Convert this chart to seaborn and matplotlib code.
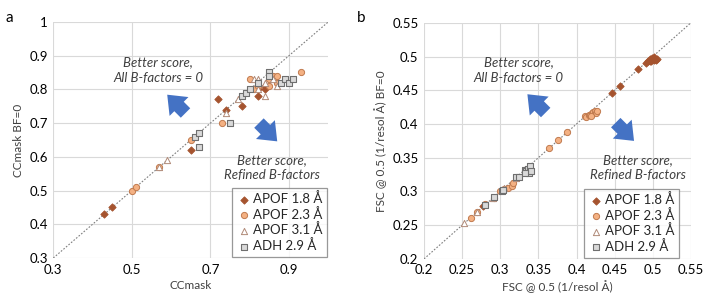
import matplotlib
matplotlib.use("Agg")
import matplotlib.pyplot as plt
import seaborn as sns
import pandas as pd

# ---- panel a : CCmask vs CCmask with B-factors = 0 ----
a18_x = [0.43, 0.45, 0.65, 0.72, 0.74, 0.78, 0.82, 0.84, 0.84, 0.82]
a18_y = [0.43, 0.45, 0.62, 0.77, 0.74, 0.75, 0.78, 0.80, 0.81, 0.80]
a23_x = [0.50, 0.51, 0.57, 0.65, 0.73, 0.80, 0.81, 0.82, 0.85, 0.86, 0.87, 0.87, 0.85, 0.93]
a23_y = [0.50, 0.51, 0.57, 0.65, 0.70, 0.83, 0.80, 0.81, 0.83, 0.84, 0.84, 0.82, 0.81, 0.85]
a31_x = [0.57, 0.59, 0.74, 0.77, 0.81, 0.82, 0.82, 0.84, 0.84, 0.87, 0.86]
a31_y = [0.57, 0.59, 0.73, 0.77, 0.83, 0.83, 0.80, 0.78, 0.82, 0.81, 0.83]
aadh_x = [0.66, 0.67, 0.67, 0.75, 0.78, 0.79, 0.80, 0.82, 0.85, 0.85, 0.88, 0.89, 0.90, 0.91]
aadh_y = [0.66, 0.67, 0.63, 0.70, 0.78, 0.79, 0.80, 0.82, 0.85, 0.84, 0.82, 0.83, 0.82, 0.83]

# ---- panel b : FSC @ 0.5 ----
b18_x = [0.278, 0.447, 0.457, 0.480, 0.491, 0.494, 0.497, 0.499, 0.500, 0.502, 0.503, 0.505, 0.504, 0.501, 0.498, 0.496]
b18_y = [0.278, 0.446, 0.457, 0.481, 0.490, 0.493, 0.496, 0.498, 0.497, 0.499, 0.496, 0.497, 0.495, 0.495, 0.494, 0.493]
b23_x = [0.262, 0.270, 0.280, 0.292, 0.300, 0.305, 0.310, 0.315, 0.317, 0.364, 0.376, 0.388,
         0.411, 0.413, 0.416, 0.418, 0.420, 0.422, 0.424, 0.426, 0.427, 0.419]
b23_y = [0.261, 0.270, 0.281, 0.290, 0.300, 0.303, 0.305, 0.308, 0.312, 0.364, 0.376, 0.388,
         0.412, 0.411, 0.413, 0.414, 0.416, 0.418, 0.419, 0.417, 0.419, 0.412]
b31_x = [0.253, 0.270, 0.290, 0.305, 0.320, 0.333]
b31_y = [0.253, 0.270, 0.290, 0.305, 0.320, 0.333]
badh_x = [0.280, 0.292, 0.302, 0.304, 0.321, 0.324, 0.332, 0.334, 0.336, 0.339, 0.338, 0.340, 0.333]
badh_y = [0.280, 0.292, 0.300, 0.302, 0.322, 0.322, 0.332, 0.330, 0.334, 0.337, 0.328, 0.330, 0.327]

series_names = ["APOF 1.8 Å", "APOF 2.3 Å", "APOF 3.1 Å", "ADH 2.9 Å"]
styles = {
    "APOF 1.8 Å": dict(marker="D", s=14, color="#A5532E", edgecolor="#A5532E", linewidth=0.6),
    "APOF 2.3 Å": dict(marker="o", s=20, color="#F4B183", edgecolor="#C07A4E", linewidth=0.7),
    "APOF 3.1 Å": dict(marker="^", s=20, color="white", edgecolor="#B08A78", linewidth=0.7),
    "ADH 2.9 Å": dict(marker="s", s=20, color="#D9D9D9", edgecolor="#6F6F6F", linewidth=0.8),
}


def make_df(xs, ys):
    rows = []
    for name, x, y in zip(series_names, xs, ys):
        rows.append(pd.DataFrame({"x": x, "y": y, "series": name}))
    return pd.concat(rows, ignore_index=True)


df_a = make_df([a18_x, a23_x, a31_x, aadh_x], [a18_y, a23_y, a31_y, aadh_y])
df_b = make_df([b18_x, b23_x, b31_x, badh_x], [b18_y, b23_y, b31_y, badh_y])

sns.set_theme(style="white")
plt.rcParams["font.family"] = ["Lato", "DejaVu Sans"]

fig = plt.figure(figsize=(7.06, 3.0), dpi=100)
ax_a = fig.add_axes([0.0755, 0.14, 0.3895, 0.787])
ax_b = fig.add_axes([0.6006, 0.137, 0.378, 0.787])

txt_col = "#404040"
arrow_col = "#4472C4"


def draw_panel(ax, df, lims, xticks, yticks, xlabel, ylabel, t1, t2, a1, a2, leg_x):
    ax.axline((lims[0], lims[0]), slope=1, color="#7F7F7F", lw=0.8, ls=(0, (1.5, 1.5)), zorder=1)
    for name in series_names:
        sub = df[df["series"] == name]
        sns.scatterplot(data=sub, x="x", y="y", ax=ax, label=name, zorder=3, **styles[name])
    ax.set_xlim(lims)
    ax.set_ylim(lims)
    ax.set_xticks(xticks)
    ax.set_yticks(yticks)
    ax.set_xticklabels([f"{v:g}" for v in xticks], fontsize=9.5, color="black")
    ax.set_yticklabels([f"{v:g}" for v in yticks], fontsize=9.5, color="black")
    ax.tick_params(length=0, pad=4)
    ax.grid(True, color="#D9D9D9", lw=0.8)
    for sp in ax.spines.values():
        sp.set_visible(False)
    ax.set_xlabel(xlabel, fontsize=8.5, color=txt_col, labelpad=3)
    ax.set_ylabel(ylabel, fontsize=8.5, color=txt_col, labelpad=4)
    ax.text(t1[0], t1[1], "Better score,\nAll B-factors = 0", ha="center", va="center",
            style="italic", fontsize=9.5, color=txt_col, linespacing=1.3)
    ax.text(t2[0], t2[1], "Better score,\nRefined B-factors", ha="center", va="center",
            style="italic", fontsize=9.5, color=txt_col, linespacing=1.3)
    arrow = dict(arrowstyle="simple,head_length=1.0,head_width=1.6,tail_width=0.8",
                 color=arrow_col, lw=0)
    # up-left arrow (head at a1) and down-right arrow (head at a2)
    ax.annotate("", xy=a1, xycoords="data", xytext=(16, -16), textcoords="offset points",
                arrowprops=arrow)
    ax.annotate("", xy=a2, xycoords="data", xytext=(-16, 16), textcoords="offset points",
                arrowprops=arrow)
    leg = ax.legend(loc="lower right", bbox_to_anchor=(leg_x, 0.0), borderaxespad=0.1,
                    fontsize=9.5, frameon=True, fancybox=False, handletextpad=0.2,
                    handlelength=1.0, labelspacing=0.2, borderpad=0.35, markerscale=1.0)
    leg.get_frame().set_edgecolor("#7F7F7F")
    leg.get_frame().set_linewidth(0.9)


draw_panel(ax_a, df_a, (0.3, 1.0), [0.3, 0.5, 0.7, 0.9],
           [0.3, 0.4, 0.5, 0.6, 0.7, 0.8, 0.9, 1.0],
           "CCmask", "CCmask BF=0",
           (0.567, 0.857), (0.857, 0.567), (0.585, 0.79), (0.875, 0.64), 1.0)
draw_panel(ax_b, df_b, (0.2, 0.55), [0.2, 0.25, 0.3, 0.35, 0.4, 0.45, 0.5, 0.55],
           [0.2, 0.25, 0.3, 0.35, 0.4, 0.45, 0.5, 0.55],
           "FSC @ 0.5 (1/resol Å)", "FSC @ 0.5 (1/resol Å) BF=0",
           (0.324, 0.48), (0.48, 0.335), (0.333, 0.447), (0.478, 0.372), 0.96)

fig.text(0.008, 0.965, "a", fontsize=11, color="black", va="top")
fig.text(0.505, 0.965, "b", fontsize=11, color="black", va="top")

fig.savefig("out.png", dpi=100, facecolor="white")
